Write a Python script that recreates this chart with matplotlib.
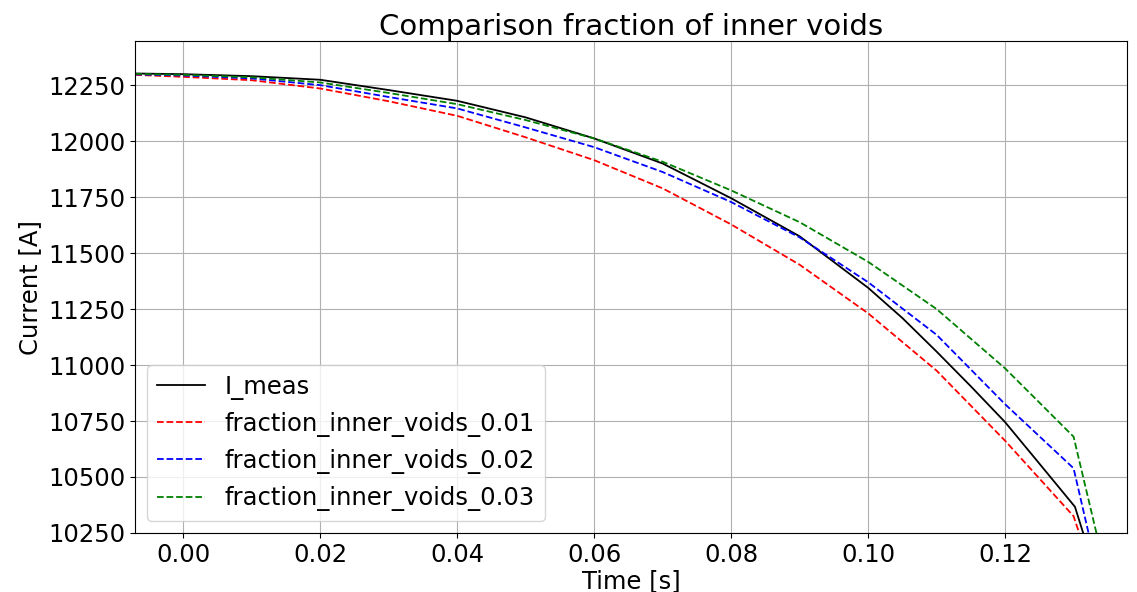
import matplotlib
matplotlib.use("Agg")
import matplotlib.pyplot as plt

# measured current
t_meas = [-0.007, 0.0, 0.01, 0.02, 0.03, 0.04, 0.05, 0.06, 0.07, 0.08,
          0.09, 0.10, 0.105, 0.11, 0.115, 0.12, 0.125, 0.1302, 0.1314, 0.133]
i_meas = [12302, 12299, 12290, 12274, 12228, 12180, 12106, 12012, 11900, 11745,
          11575, 11345, 11210, 11060, 10905, 10745, 10560, 10367, 10250, 10094]

# simulated, one per fraction of inner voids
t_sim = [-0.007, 0.0, 0.01, 0.02, 0.03, 0.04, 0.05, 0.06, 0.07, 0.08,
         0.09, 0.10, 0.11, 0.12, 0.13]
i_001 = [12296, 12287, 12272, 12235, 12178, 12113, 12017, 11915, 11789, 11628,
         11448, 11231, 10975, 10662, 10325]
i_002 = [12298, 12293, 12280, 12250, 12197, 12146, 12061, 11973, 11862, 11728,
         11570, 11370, 11135, 10825, 10539]
i_003 = [12300, 12296, 12285, 12262, 12215, 12165, 12094, 12012, 11908, 11780,
         11638, 11461, 11250, 10985, 10680]
# last sample of each run falls below the plotted range
t_end = [0.1330, 0.1340, 0.1345]
i_end = [10050, 10010, 10100]

labels = ["fraction_inner_voids_0.01", "fraction_inner_voids_0.02",
          "fraction_inner_voids_0.03"]
colors = ["red", "blue", "green"]

fig = plt.figure(figsize=(11.37, 5.92), dpi=100)
ax = fig.add_axes([0.1187, 0.0997, 0.8725, 0.831])

ax.plot(t_meas, i_meas, "-", color="black", lw=1.3, label="I_meas")
for sim, te, ie, lab, c in zip([i_001, i_002, i_003], t_end, i_end, labels, colors):
    ax.plot(t_sim + [te], sim + [ie], "--", color=c, lw=1.3, label=lab)

ax.set_xlim(-0.00705, 0.1378)
ax.set_ylim(10250, 12447)
ax.set_yticks([10250, 10500, 10750, 11000, 11250, 11500, 11750, 12000, 12250])
ax.set_xticks([0.0, 0.02, 0.04, 0.06, 0.08, 0.10, 0.12])
ax.tick_params(labelsize=17.5)
ax.set_xlabel("Time [s]", fontsize=17.5, labelpad=2)
ax.set_ylabel("Current [A]", fontsize=17.5)
ax.set_title("Comparison fraction of inner voids", fontsize=21, pad=4)
ax.grid(True)
ax.legend(loc="lower left", fontsize=17.5)

fig.savefig("out.png", dpi=100)
